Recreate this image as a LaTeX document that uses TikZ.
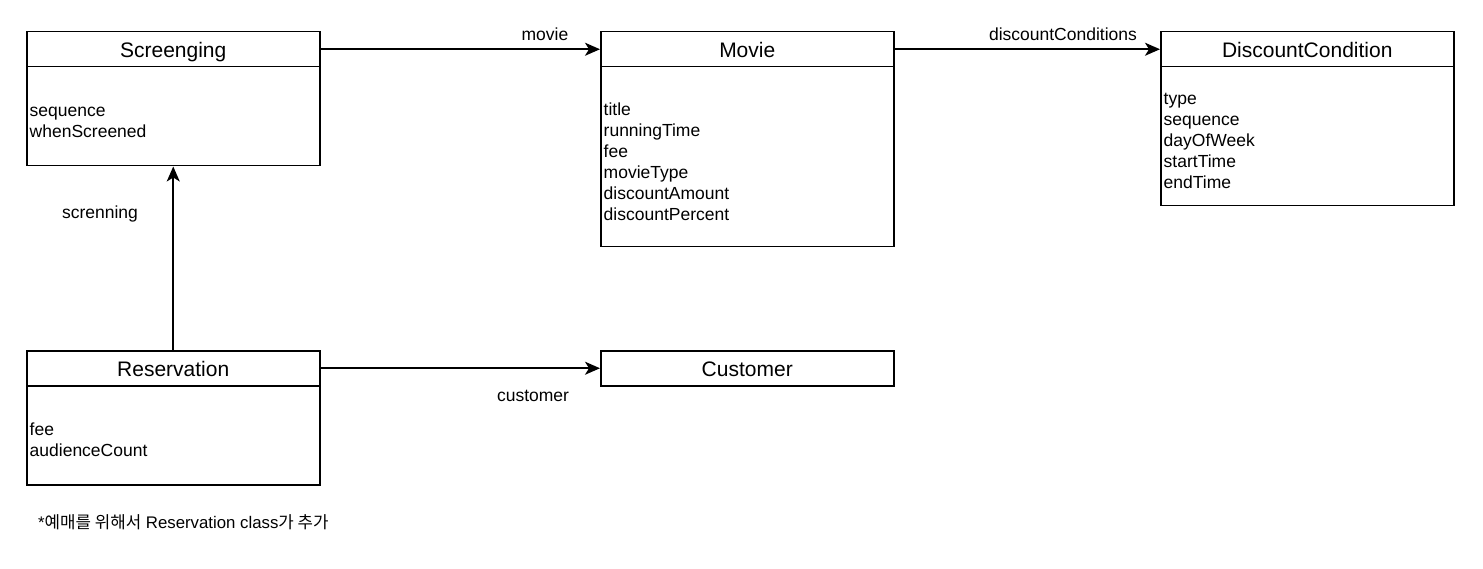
\documentclass[tikz,border=0pt]{standalone}
\usepackage{fontspec}
\setmainfont{Liberation Sans}
\newfontfamily\cjk{Noto Sans CJK KR}
\usetikzlibrary{arrows.meta}
\tikzset{
  x=1pt, y=-1pt,
  box/.style={draw=black, line width=1.5pt, fill=white, inner sep=0pt, anchor=north west, minimum width=293pt},
  ttl/.style={font=\fontsize{21}{25}\selectfont, inner sep=0pt, anchor=base},
  attr/.style={font=\fontsize{17.5}{21}\selectfont, align=left, inner sep=0pt, anchor=west},
  lbl/.style={font=\fontsize{17.5}{21}\selectfont, inner sep=0pt},
  conn/.style={line width=1.6pt, -{Stealth[length=15pt,width=13pt,inset=4pt]}}
}
\begin{document}
\begin{tikzpicture}
\useasboundingbox[fill=white] (0,0) rectangle (1483,569);

% Screenging
\node[box, minimum height=35pt] (scrH) at (26,31) {};
\node[box, minimum height=99pt] (scrB) at (26,66) {};
\node[ttl] (scrT) at ([yshift=-8.5pt]scrH.center) {Screenging};
\node[attr] (scrA) at (29.5,122) {sequence\\whenScreened};

% Movie
\node[box, minimum height=35pt] (movH) at (600,31) {};
\node[box, minimum height=180pt] (movB) at (600,66) {};
\node[ttl] (movT) at ([yshift=-8.5pt]movH.center) {Movie};
\node[attr] (movA) at (603.5,161.5) {title\\runningTime\\fee\\movieType\\discountAmount\\discountPercent};

% DiscountCondition
\node[box, minimum height=35pt] (dcH) at (1160,31) {};
\node[box, minimum height=139pt] (dcB) at (1160,66) {};
\node[ttl] (dcT) at ([yshift=-8.5pt]dcH.center) {DiscountCondition};
\node[attr] (dcA) at (1163.5,140.5) {type\\sequence\\dayOfWeek\\startTime\\endTime};

% Reservation
\node[box, minimum height=35pt] (resH) at (26,350) {};
\node[box, minimum height=99pt] (resB) at (26,385) {};
\node[ttl] (resT) at ([yshift=-8.5pt]resH.center) {Reservation};
\node[attr] (resA) at (29.5,440) {fee\\audienceCount};

% Customer
\node[box, minimum height=35pt] (cusH) at (600,350) {};
\node[ttl] (cusT) at ([yshift=-8.5pt]cusH.center) {Customer};

% Connectors
\draw[conn] (scrH.east) -- (movH.west);
\draw[conn] (movH.east) -- (dcH.west);
\draw[conn] (resH.east) -- (cusH.west);
\draw[conn] (resH.north) -- (scrB.south);

% Labels
\node[lbl] (l1) at (545,34) {movie};
\node[lbl] (l2) at (1063,34) {discountConditions};
\node[lbl] (l3) at (533,396) {customer};
\node[lbl] (l4) at (100,214) {screnning};

% Footnote
\node[lbl, anchor=west, font=\fontsize{16.8}{20}\selectfont] (note) at (38,522) {*{\cjk 예매를 위해서} Reservation class{\cjk 가 추가}};
\end{tikzpicture}
\end{document}
